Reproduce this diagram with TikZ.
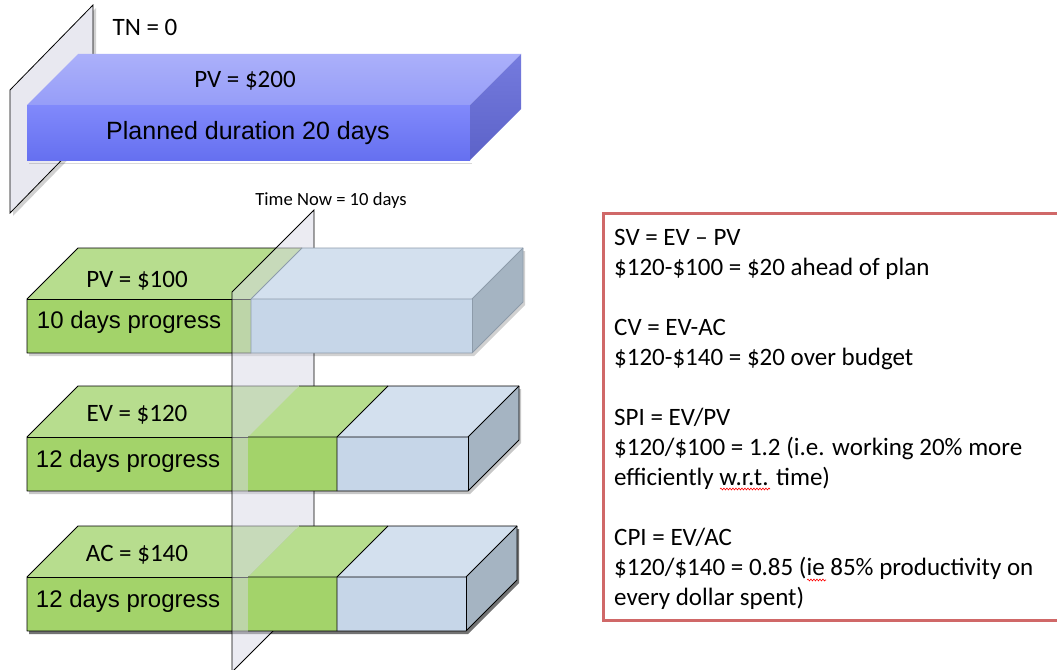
\documentclass[tikz,border=0pt]{standalone}
\usepackage{fontspec}
\setmainfont{Carlito}
\newfontfamily\arialf{Liberation Sans}
\usetikzlibrary{decorations.pathmorphing}
\definecolor{gFront}{HTML}{A3D36A}
\definecolor{gTop}{HTML}{B7DD8E}
\definecolor{bFront}{HTML}{C6D6E8}
\definecolor{bTop}{HTML}{D3E0EE}
\definecolor{bSide}{HTML}{A5B4C2}
\definecolor{bLine}{HTML}{8D9BAA}
\definecolor{pFrontA}{HTML}{8189FB}
\definecolor{pFrontB}{HTML}{6570F0}
\definecolor{pTopA}{HTML}{ABB0FA}
\definecolor{pTopB}{HTML}{969DF8}
\definecolor{pSideA}{HTML}{757BDE}
\definecolor{pSideB}{HTML}{5C62C8}
\definecolor{planeFill}{HTML}{D8D8E6}
\definecolor{planeSolid}{HTML}{E8E8F0}
\definecolor{boxRed}{HTML}{D06868}
\tikzset{
  edge/.style={line width=0.9pt, line join=round},
  lab/.style={inner sep=0pt, anchor=base, font=\fontsize{25}{30}\selectfont},
  arl/.style={inner sep=0pt, anchor=base, font=\arialf\fontsize{24}{28}\selectfont},
  squiggle/.style={red, line width=0.6pt, decorate, decoration={snake, amplitude=0.9pt, segment length=3pt}},
}
% left part of a bar: #1 yf, #2 ybot, #3 split x
\newcommand\leftpart[3]{%
  \fill[gTop] (27,#1) -- (78,{#1-51}) -- ({#3+51},{#1-51}) -- (#3,#1) -- cycle;
  \fill[gFront] (27,#1) rectangle (#3,#2);
  \draw[edge] (#3,#2) -- (27,#2) -- (27,#1) -- (78,{#1-51}) -- ({#3+51},{#1-51});
  \draw[edge] (27,#1) -- (#3,#1);
}
% right part: #1 yf, #2 ybot, #3 split, #4 green end, #5 front right, #6 line colour
\newcommand\rightpart[6]{%
  \fill[gTop] (#3,#1) -- ({#3+51},{#1-51}) -- ({#4+51},{#1-51}) -- (#4,#1) -- cycle;
  \fill[gFront] (#3,#1) rectangle (#4,#2);
  \fill[bTop] (#4,#1) -- ({#4+51},{#1-51}) -- ({#5+51},{#1-51}) -- (#5,#1) -- cycle;
  \fill[bFront] (#4,#1) rectangle (#5,#2);
  \fill[bSide] (#5,#1) -- ({#5+51},{#1-51}) -- ({#5+51},{#2-51}) -- (#5,#2) -- cycle;
  \draw[edge,draw=#6] ({#3+51},{#1-51}) -- ({#5+51},{#1-51}) -- ({#5+51},{#2-51}) -- (#5,#2) -- (#3,#2);
  \draw[edge,draw=#6] (#3,#1) -- (#5,#1) -- ({#5+51},{#1-51});
  \draw[edge,draw=#6] (#5,#1) -- (#5,#2);
  \draw[edge,draw=#6] (#4,#2) -- (#4,#1) -- ({#4+51},{#1-51});
}
% shadow: #1 yf, #2 ybot, #3 front right, #4 opacity
\newcommand\rowshadow[4]{%
  \fill[black,opacity=#4] (29,{#1+3}) -- (80,{#1-48}) -- ({#3+53},{#1-48}) -- ({#3+53},{#2-48}) -- ({#3+2},{#2+3}) -- (29,{#2+3}) -- cycle;
}
\begin{document}
\begin{tikzpicture}[x=1pt,y=-1pt]
\useasboundingbox (0,0) rectangle (1057,669);
\clip (0,0) rectangle (1057,669);
\fill[white] (0,0) rectangle (1057,669);

% TN = 0 plane
\fill[black,opacity=0.18] (96,8) -- (13,93) -- (13,216) -- (96,131) -- cycle;
\filldraw[fill=planeSolid, draw=black, line width=0.8pt] (93,5) -- (10,90) -- (10,213) -- (93,128) -- cycle;

% top blue bar (PV = $200)
\fill[black,opacity=0.15] (29,163) rectangle (472,164);
\shade[top color=pTopA, bottom color=pTopB] (27,105) -- (78,54) -- (521,54) -- (470,105) -- cycle;
\shade[top color=pFrontA, bottom color=pFrontB] (27,105) rectangle (470,160);
\shade[top color=pSideA, bottom color=pSideB] (470,105) -- (521,54) -- (521,109) -- (470,160) -- cycle;

% shadows of bars
\rowshadow{299}{353}{472}{0.18}
\rowshadow{437}{491}{468}{0.22}
\rowshadow{577}{631}{466}{0.55}

% left parts of bars (behind the Time Now plane)
\leftpart{299}{353}{251}
\leftpart{437}{491}{248}
\leftpart{577}{631}{248}

% Time Now plane
\filldraw[fill=planeFill, fill opacity=0.5, draw=black, line width=0.8pt] (314,210) -- (232,292) -- (232,672) -- (314,590) -- cycle;

% right parts of bars
\rightpart{299}{353}{251}{251}{472}{bLine}
\rightpart{437}{491}{248}{337}{468}{black}
\rightpart{577}{631}{248}{337}{466}{black}

% texts
\node[lab] (tn) at (145,36) {TN = 0};
\node[lab] (pv200) at (245,88) {PV = \$200};
\node[arl, font=\arialf\fontsize{25}{30}\selectfont] (plan) at (248,139) {Planned duration 20 days};
\node[lab, font=\fontsize{18.6}{22}\selectfont] (tnow) at (331,205) {Time Now = 10 days};
\node[lab] (pv100) at (137,287) {PV = \$100};
\node[arl] (p10) at (129,328) {10 days progress};
\node[lab] (ev) at (137,421) {EV = \$120};
\node[arl] (p12a) at (128,467) {12 days progress};
\node[lab] (ac) at (137,561) {AC = \$140};
\node[arl] (p12b) at (128,607) {12 days progress};

% formula box
\draw[boxRed, line width=3pt] (1070,213) -- (603,213) -- (603,620) -- (1070,620);
\node[inner sep=0pt, anchor=north west, align=left, font=\fontsize{25}{30}\selectfont] (calc) at (614,229)
 {SV = EV – PV\\
  \$120-\$100 = \$20 ahead of plan\\[30pt]
  CV = EV-AC\\
  \$120-\$140 = \$20 over budget\\[30pt]
  SPI = EV/PV\\
  \$120/\$100 = 1.2 (i.e. working 20\% more\\
  efficiently w.r.t. time)\\[30pt]
  CPI = EV/AC\\
  \$120/\$140 = 0.85 (ie 85\% productivity on\\
  every dollar spent)};
\coordinate (sqA1) at (720,489);
\coordinate (sqA2) at (770,489);
\coordinate (sqB1) at (807,580);
\coordinate (sqB2) at (826,580);
\draw[squiggle] (sqA1) -- (sqA2);
\draw[squiggle] (sqB1) -- (sqB2);
\end{tikzpicture}
\end{document}
